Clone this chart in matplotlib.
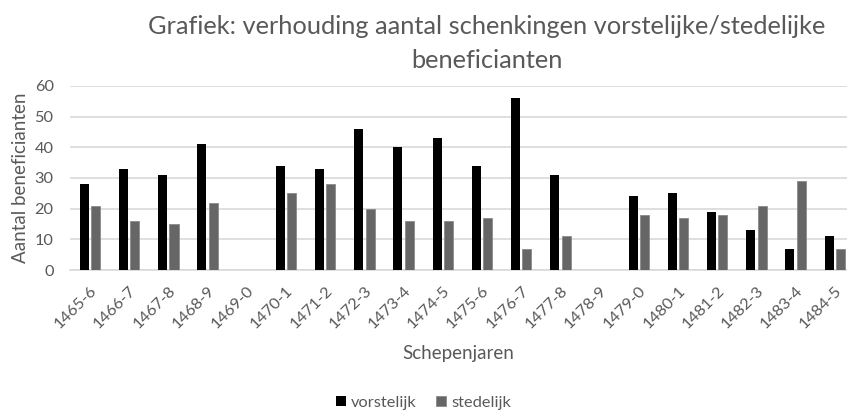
import matplotlib
matplotlib.use("Agg")
import matplotlib.pyplot as plt
import numpy as np

categories = ["1465-6", "1466-7", "1467-8", "1468-9", "1469-0", "1470-1", "1471-2",
              "1472-3", "1473-4", "1474-5", "1475-6", "1476-7", "1477-8", "1478-9",
              "1479-0", "1480-1", "1481-2", "1482-3", "1483-4", "1484-5"]
vorstelijk = [28, 33, 31, 41, 0, 34, 33, 46, 40, 43, 34, 56, 31, 0, 24, 25, 19, 13, 7, 11]
stedelijk = [21, 16, 15, 22, 0, 25, 28, 20, 16, 16, 17, 7, 11, 0, 18, 17, 18, 21, 29, 7]
yticks = [0, 10, 20, 30, 40, 50, 60]

plt.rcParams['font.family'] = ['Lato', 'DejaVu Sans']
txt = "#595959"

fig = plt.figure(figsize=(8.47, 4.11), dpi=100)
ax = fig.add_axes([0.083, 0.343, 0.917, 0.448])

x = np.arange(len(categories))
w = 0.23
off = 0.145
ax.bar(x - off, vorstelijk, width=w, color="#000000", label="vorstelijk", zorder=3)
ax.bar(x + off, stedelijk, width=w, color="#666666", edgecolor="#8a8a8a", linewidth=0.6,
       label="stedelijk", zorder=3)

ax.set_xlim(-0.5, 19.31)
ax.set_ylim(0, 60)
ax.set_yticks(yticks)
ax.yaxis.grid(True, color="#d9d9d9", linewidth=1.2, zorder=0)
ax.set_axisbelow(True)
for s in ["top", "right", "left"]:
    ax.spines[s].set_visible(False)
ax.spines["bottom"].set_color("#d9d9d9")
ax.spines["bottom"].set_linewidth(1.2)
ax.tick_params(axis="both", length=0, colors=txt, labelsize=11.8)
ax.tick_params(axis="y", pad=12)
ax.set_xticks(x)
ax.set_xticklabels(categories, rotation=45, ha="right", rotation_mode="anchor")
ax.tick_params(axis="x", pad=10)

ax.set_ylabel("Aantal beneficianten", color=txt, fontsize=13.5, labelpad=4)
ax.set_xlabel("Schepenjaren", color=txt, fontsize=13.5, labelpad=10)

t1 = fig.text(0.575, 1 - 27 / 411, "Grafiek: verhouding aantal schenkingen vorstelijke/stedelijke",
              ha="center", va="center", fontsize=15, color=txt)
t2 = fig.text(0.575, 1 - 60 / 411, "beneficianten",
              ha="center", va="center", fontsize=15, color=txt)
# scale title font so line 1 spans ~680 px like the reference
r = fig.canvas.get_renderer()
wpx = t1.get_window_extent(renderer=r).width
fs = 15 * 680 / wpx
t1.set_fontsize(fs)
t2.set_fontsize(fs)

leg = fig.legend(loc="center", bbox_to_anchor=(0.5, 8 / 411), ncol=2, frameon=False,
                 fontsize=11.8, handlelength=0.6, handleheight=0.6, handletextpad=0.3,
                 columnspacing=1.2, borderpad=0.1)
for t in leg.get_texts():
    t.set_color(txt)

fig.savefig("out.png", dpi=100)
